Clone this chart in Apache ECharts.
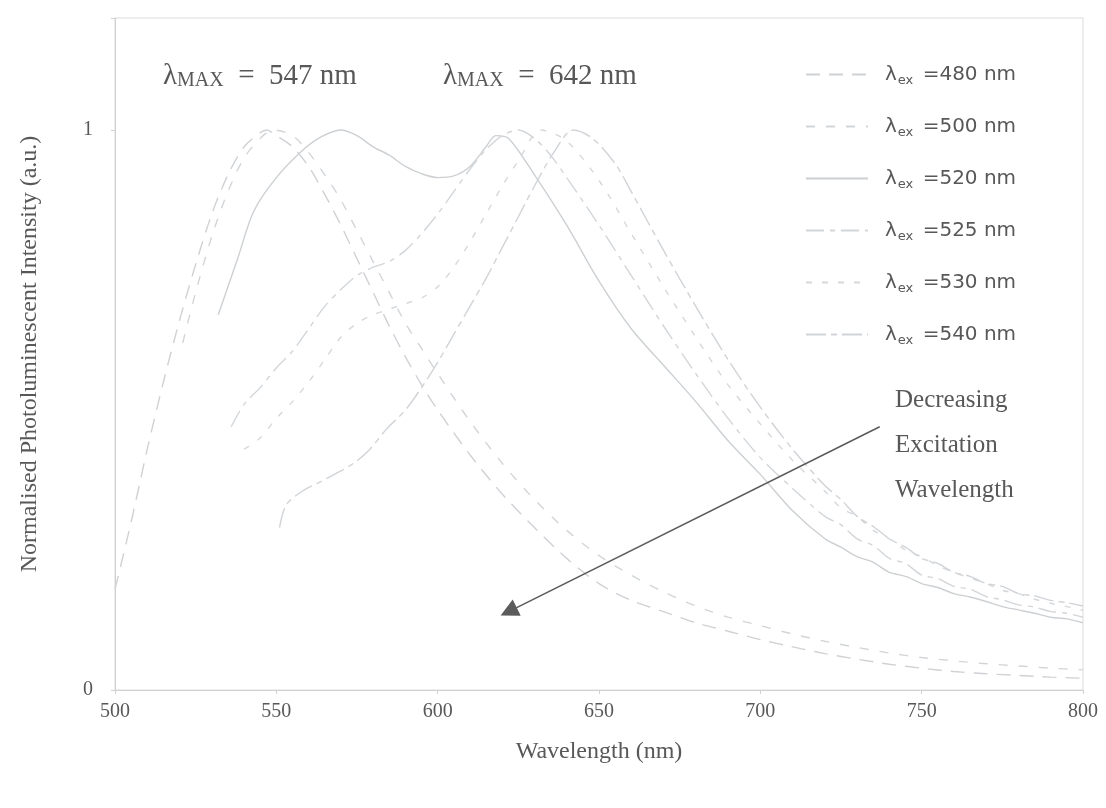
<!DOCTYPE html>
<html>
<head>
<meta charset="utf-8">
<title>PL spectra</title>
<script src="https://cdn.jsdelivr.net/npm/echarts@6/dist/echarts.min.js"></script>
<style>
  html, body { margin: 0; padding: 0; background: #fff; }
  #chart { width: 1106px; height: 808px; }
</style>
</head>
<body>
<div id="chart"></div>
<script>
// excitation wavelengths (legend)
var excitations = ['480', '500', '520', '525', '530', '540'];

// emission spectra: wavelength (nm) / normalised intensity
var wl480 = [500, 505, 510, 515, 520, 525, 530, 535, 540, 545, 547, 550, 555, 560, 565, 570, 575, 580, 585, 590, 595, 600, 610, 620, 630, 640, 650, 660, 670, 680, 690, 700, 710, 720, 730, 740, 750, 760, 770, 780, 790, 800];
var pl480 = [0.18, 0.30, 0.43, 0.55, 0.66, 0.76, 0.85, 0.92, 0.97, 0.995, 1.0, 0.99, 0.97, 0.935, 0.885, 0.83, 0.77, 0.71, 0.65, 0.595, 0.545, 0.50, 0.42, 0.35, 0.29, 0.235, 0.19, 0.16, 0.14, 0.12, 0.105, 0.09, 0.077, 0.065, 0.055, 0.046, 0.039, 0.033, 0.029, 0.026, 0.023, 0.021];

var wl500 = [521, 525, 530, 535, 540, 545, 549, 555, 560, 565, 570, 575, 580, 585, 590, 595, 600, 610, 620, 630, 640, 650, 660, 670, 680, 690, 700, 710, 720, 730, 740, 750, 760, 770, 780, 790, 800];
var pl500 = [0.62, 0.71, 0.81, 0.89, 0.95, 0.985, 1.0, 0.99, 0.96, 0.92, 0.875, 0.82, 0.765, 0.71, 0.655, 0.61, 0.565, 0.48, 0.405, 0.34, 0.285, 0.24, 0.205, 0.175, 0.15, 0.13, 0.115, 0.10, 0.087, 0.076, 0.066, 0.058, 0.052, 0.047, 0.043, 0.039, 0.036];

var wl520 = [532, 535, 538, 543, 550, 558, 564, 570, 575, 580, 585, 590, 595, 600, 605, 610, 615, 618, 622, 630, 640, 650, 660, 670, 680, 690, 700, 710, 720, 725, 730, 735, 740, 745, 750, 755, 760, 765, 770, 775, 780, 785, 790, 795, 800];
var pl520 = [0.67, 0.72, 0.77, 0.855, 0.915, 0.963, 0.988, 1.0, 0.99, 0.97, 0.955, 0.935, 0.922, 0.915, 0.918, 0.935, 0.97, 0.99, 0.985, 0.92, 0.83, 0.73, 0.645, 0.58, 0.515, 0.445, 0.385, 0.32, 0.27, 0.255, 0.238, 0.228, 0.21, 0.203, 0.19, 0.183, 0.172, 0.166, 0.158, 0.149, 0.143, 0.137, 0.13, 0.127, 0.12];

var wl525 = [536, 540, 545, 550, 555, 560, 565, 570, 575, 580, 585, 590, 595, 600, 605, 610, 615, 620, 625, 630, 635, 640, 650, 660, 670, 680, 690, 700, 710, 720, 725, 730, 735, 740, 745, 750, 755, 760, 765, 770, 775, 780, 785, 790, 795, 800];
var pl525 = [0.47, 0.51, 0.54, 0.575, 0.605, 0.645, 0.685, 0.715, 0.74, 0.755, 0.765, 0.785, 0.815, 0.85, 0.89, 0.93, 0.965, 0.99, 1.0, 0.985, 0.955, 0.915, 0.83, 0.74, 0.65, 0.565, 0.485, 0.415, 0.36, 0.31, 0.295, 0.27, 0.258, 0.235, 0.226, 0.205, 0.199, 0.185, 0.18, 0.167, 0.161, 0.152, 0.148, 0.14, 0.137, 0.13];

var wl530 = [540, 545, 550, 555, 560, 565, 570, 575, 580, 585, 590, 595, 600, 605, 610, 615, 620, 625, 632, 640, 650, 660, 670, 680, 690, 700, 710, 720, 725, 730, 735, 740, 745, 750, 755, 760, 765, 770, 775, 780, 785, 790, 795, 800];
var pl530 = [0.43, 0.45, 0.485, 0.515, 0.55, 0.59, 0.63, 0.655, 0.67, 0.68, 0.69, 0.70, 0.72, 0.755, 0.80, 0.85, 0.90, 0.945, 1.0, 0.98, 0.91, 0.815, 0.72, 0.63, 0.545, 0.475, 0.41, 0.355, 0.325, 0.31, 0.285, 0.27, 0.25, 0.238, 0.222, 0.21, 0.2, 0.19, 0.178, 0.172, 0.162, 0.155, 0.149, 0.142];

var wl540 = [551, 553, 558, 563, 568, 574, 579, 584, 590, 595, 600, 605, 610, 615, 620, 625, 630, 636, 642, 648, 655, 660, 670, 680, 690, 700, 710, 720, 725, 730, 735, 740, 745, 750, 755, 760, 765, 770, 775, 780, 785, 790, 795, 800];
var pl540 = [0.29, 0.33, 0.355, 0.37, 0.385, 0.405, 0.43, 0.465, 0.50, 0.54, 0.585, 0.635, 0.685, 0.735, 0.79, 0.845, 0.90, 0.96, 1.0, 0.985, 0.94, 0.89, 0.785, 0.685, 0.59, 0.505, 0.43, 0.365, 0.34, 0.31, 0.292, 0.27, 0.255, 0.235, 0.226, 0.21, 0.203, 0.19, 0.185, 0.172, 0.168, 0.16, 0.156, 0.15];

// arrow "decreasing excitation wavelength": from / to, in data units
var arrowFrom = [737, 0.47];
var arrowTo = [622, 0.14];

var xTicks = { min: 500, max: 800, step: 50 };

var serif = '"Liberation Serif", "Times New Roman", serif';
var sans = '"DejaVu Sans", Verdana, sans-serif';
var txt = '#585858';

var spectra = [
    { wl: wl480, pl: pl480, dash: [14, 9], color: '#cfd1d4' },
    { wl: wl500, pl: pl500, dash: [9, 11], color: '#d2d5d8' },
    { wl: wl520, pl: pl520, dash: 'solid', color: '#cdd0d3' },
    { wl: wl525, pl: pl525, dash: [18, 6, 5, 6], color: '#d3d6d9' },
    { wl: wl530, pl: pl530, dash: [6, 10], color: '#d5d8da' },
    { wl: wl540, pl: pl540, dash: [20, 5, 6, 5], color: '#d0d3d7' }
];

var zip = function (xs, ys) {
    var res = [];
    for (var i = 0; i < xs.length; i++) {
        res.push([xs[i], ys[i]]);
    }
    return res;
};

var seriesList = [];
for (var i = 0; i < spectra.length; i++) {
    var s = {
        name: excitations[i],
        type: 'line',
        symbol: 'none',
        smooth: 0.3,
        animation: false,
        lineStyle: { color: spectra[i].color, width: 1.4, type: spectra[i].dash },
        itemStyle: { color: spectra[i].color },
        data: zip(spectra[i].wl, spectra[i].pl)
    };
    if (i === 0) {
        // arrow annotation
        s.markLine = {
            silent: true,
            symbol: ['none', 'triangle'],
            symbolSize: [18, 18],
            label: { show: false },
            lineStyle: { color: '#5c5c5c', width: 1.6, type: 'solid' },
            data: [[{ coord: arrowFrom }, { coord: arrowTo }]]
        };
    }
    seriesList.push(s);
}

var maxRich = {
    l: { fontFamily: serif, fontSize: 29, fill: txt, lineHeight: 34 },
    s: { fontFamily: serif, fontSize: 20, fill: txt, lineHeight: 34, padding: [8, 0, 0, 0] }
};

var chart = echarts.init(document.getElementById('chart'));
chart.setOption({
    backgroundColor: '#ffffff',
    animation: false,
    grid: {
        left: 115, right: 23, top: 18, bottom: 118,
        show: true, borderColor: '#dcdcdc', borderWidth: 1
    },
    xAxis: {
        type: 'value',
        min: xTicks.min, max: xTicks.max, interval: xTicks.step,
        name: 'Wavelength (nm)',
        nameLocation: 'middle',
        nameGap: 50,
        nameTextStyle: { fontFamily: serif, fontSize: 24, color: txt },
        axisLine: { lineStyle: { color: '#d0d0d0' } },
        axisTick: { show: true, length: 4, lineStyle: { color: '#d0d0d0' } },
        splitLine: { show: false },
        axisLabel: { fontFamily: serif, fontSize: 20, color: txt, margin: 12 }
    },
    yAxis: {
        type: 'value',
        min: 0, max: 1.2, interval: 1,
        name: 'Normalised Photoluminescent Intensity (a.u.)',
        nameLocation: 'middle',
        nameRotate: 90,
        nameGap: 73,
        nameTextStyle: { fontFamily: serif, fontSize: 24, color: txt },
        axisLine: { show: true, lineStyle: { color: '#d0d0d0' } },
        axisTick: { show: true, length: 4, lineStyle: { color: '#d0d0d0' } },
        splitLine: { show: false },
        axisLabel: {
            fontFamily: serif, fontSize: 20, color: txt, margin: 22,
            formatter: function (v) { return (v === 0 || v === 1) ? String(v) : ''; }
        }
    },
    legend: {
        orient: 'vertical',
        left: 800,
        top: 57,
        itemWidth: 62,
        itemHeight: 14,
        itemGap: 27,
        selectedMode: false,
        itemStyle: { opacity: 0 },
        data: excitations,
        formatter: function (name) {
            return '{l|λ}{s|ex}{l| =' + name + ' nm}';
        },
        textStyle: {
            padding: [0, 0, 0, 12],
            rich: {
                l: { fontFamily: sans, fontSize: 20, color: txt, lineHeight: 22 },
                s: { fontFamily: sans, fontSize: 13, color: txt, lineHeight: 22, padding: [12, 3, 0, 1] }
            }
        }
    },
    graphic: [
        {
            type: 'text', left: 163, top: 62,
            style: { text: '{l|λ}{s|MAX}{l|  =  547 nm}', rich: maxRich }
        },
        {
            type: 'text', left: 443, top: 62,
            style: { text: '{l|λ}{s|MAX}{l|  =  642 nm}', rich: maxRich }
        },
        {
            type: 'text', left: 895, top: 378,
            style: {
                text: 'Decreasing\nExcitation\nWavelength',
                font: '25px ' + serif,
                fill: txt,
                lineHeight: 45
            }
        }
    ],
    series: seriesList
});
</script>
</body>
</html>
